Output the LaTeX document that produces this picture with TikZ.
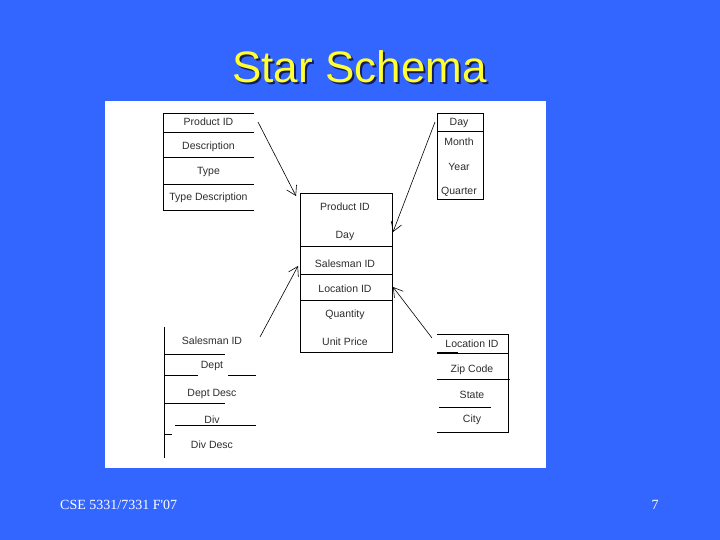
\documentclass[tikz,border=0pt]{standalone}
\usepackage{fontspec}
\setmainfont{Liberation Sans}
\newfontfamily\footfont{Liberation Serif}
\usetikzlibrary{arrows.meta}
\definecolor{SlideBlue}{RGB}{51,102,255}
\definecolor{TitleYellow}{RGB}{255,255,51}
\definecolor{ShadowNavy}{RGB}{20,30,90}
\definecolor{ScanGray}{RGB}{45,45,45}

\begin{document}
\begin{tikzpicture}[x=1pt, y=-1pt,
	fld/.style={anchor=base, inner sep=0pt, font=\fontsize{10.5}{12}\selectfont, text=ScanGray},
	frame/.style={inner sep=0pt, outer sep=0pt},
	rule/.style={line width=0.7pt},
	crow/.style={-{Straight Barb[length=9pt, width=11pt]}, line width=0.6pt}]
	\fill[SlideBlue] (0,0) rectangle (720,540);
	\useasboundingbox (0,0) rectangle (720,540);
	\fill[white] (105,101) rectangle (546,468);
	% title and footer
	\node[anchor=base, inner sep=0pt, font=\fontsize{44}{48}\selectfont, text=ShadowNavy] (titleshadow) at (361.5,85) {Star Schema};
	\node[anchor=base, inner sep=0pt, font=\fontsize{44}{48}\selectfont, text=TitleYellow] (title) at (359.5,83) {Star Schema};
	\node[anchor=base west, inner sep=0pt, font=\footfont\fontsize{14}{16}\selectfont, text=white] (course) at (60,509) {CSE 5331/7331 F'07};
	\node[anchor=base, inner sep=0pt, font=\footfont\fontsize{14}{16}\selectfont, text=white] (pageno) at (655,509) {7};
	% table frames
	\node[frame, minimum width=91pt, minimum height=97pt] (product) at (208.5,161.5) {};
	\node[frame, draw, rule, minimum width=92pt, minimum height=159pt] (fact) at (346,272.5) {};
	\node[frame, draw, rule, minimum width=46pt, minimum height=86pt] (time) at (460,156) {};
	\node[frame, minimum width=92pt, minimum height=131pt] (sales) at (210,392.5) {};
	\node[frame, minimum width=71pt, minimum height=98pt] (loc) at (472.5,383) {};
	% product
	\draw[rule] (product.north east) -- (product.north west) -- (product.south west) -- (product.south east);
	\foreach \y in {132,157,184}
		\draw[rule] (163,\y) -- (254,\y);
	\foreach \t/\y [count=\i] in {Product ID/126, Description/150, Type/175, Type Description/201}
		\node[fld] (p\i) at (208.5,\y) {\t};
	% fact
	\foreach \y in {246,274,300}
		\draw[rule] (300,\y) -- (392,\y);
	\foreach \t/\y [count=\i] in {Product ID/211, Day/238, Salesman ID/267, Location ID/292, Quantity/317, Unit Price/345}
		\node[fld] (f\i) at (345,\y) {\t};
	% time
	\draw[rule] (437,131) -- (483,131);
	\foreach \t/\y [count=\i] in {Day/126, Month/146, Year/171, Quarter/195}
		\node[fld] (t\i) at (459,\y) {\t};
	% salesman
	\draw[rule] (sales.north west) -- (sales.south west);
	\draw[rule] (164,354) -- (225,354);
	\draw[rule] (164,375) -- (198,375) (228,375) -- (256,375);
	\draw[rule] (164,403) -- (225,403);
	\draw[rule] (175,425) -- (256,425) (164,434) -- (172,434);
	\foreach \t/\y [count=\i] in {Salesman ID/344, Dept/368, Dept Desc/396, Div/423, Div Desc/448}
		\node[fld] (s\i) at (212,\y) {\t};
	% location
	\draw[rule] (loc.north west) -- (loc.north east) -- (loc.south east) -- (loc.south west);
	\draw[rule] (437,353) -- (508,353);
	\draw[line width=1.6pt] (437,353) -- (458,353);
	\draw[rule] (437,379) -- (510,379) (439,407) -- (491,407);
	\foreach \t/\y [count=\i] in {Location ID/347, Zip Code/372, State/398, City/422}
		\node[fld] (l\i) at (472,\y) {\t};
	% connectors
	\draw[crow] ([shift={(4pt,-9pt)}]product.north east) -- ([shift={(-4pt,-3pt)}]fact.north west);
	\draw[crow] ([shift={(-2pt,-9pt)}]time.north west) -- ([shift={(1pt,-39pt)}]fact.north east);
	\draw[crow] ([shift={(4pt,-10pt)}]sales.north east) -- ([shift={(-2pt,-73pt)}]fact.north west);
	\draw[crow] ([shift={(-5pt,-4pt)}]loc.north west) -- ([shift={(1pt,-94pt)}]fact.north east);
\end{tikzpicture}
\end{document}
